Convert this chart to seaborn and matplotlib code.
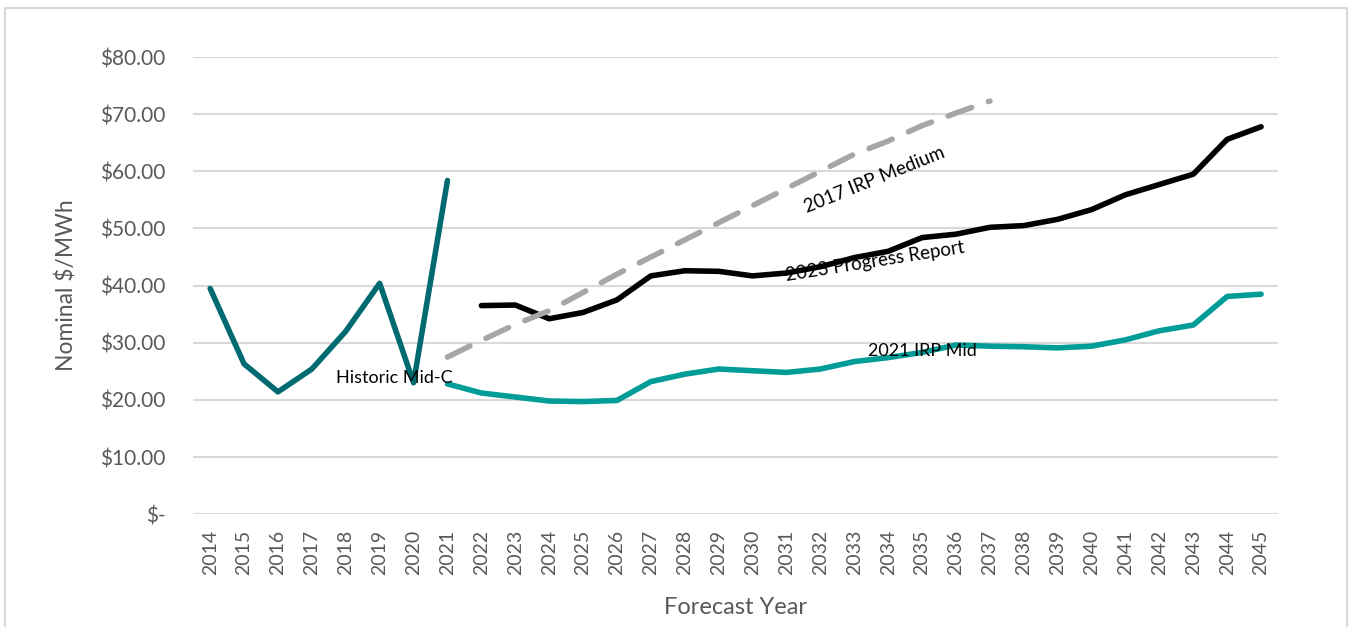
import pandas as pd
import numpy as np
import matplotlib.pyplot as plt
import seaborn as sns
from matplotlib.patches import Rectangle

years = list(range(2014, 2046))

hist_years = list(range(2014, 2022))
hist_vals = [39.5, 26.3, 21.4, 25.4, 32.0, 40.4, 23.0, 58.4]

irp21_years = list(range(2021, 2046))
irp21_vals = [22.8, 21.2, 20.5, 19.8, 19.7, 19.9, 23.2, 24.5, 25.4, 25.1, 24.8, 25.4, 26.7,
              27.4, 28.3, 29.6, 29.4, 29.3, 29.1, 29.4, 30.5, 32.1, 33.1, 38.1, 38.5]

pr23_years = list(range(2022, 2046))
pr23_vals = [36.5, 36.6, 34.2, 35.3, 37.5, 41.7, 42.6, 42.5, 41.7, 42.2, 43.3, 44.9,
             46.0, 48.4, 49.0, 50.2, 50.5, 51.6, 53.3, 55.9, 57.7, 59.5, 65.6, 67.8]

irp17_years = list(range(2021, 2038))
irp17_vals = [27.5, 30.4, 33.2, 35.6, 38.8, 42.0, 45.0, 48.0, 51.0, 54.0, 57.0,
              60.0, 63.0, 65.3, 68.0, 70.2, 72.3]

sns.set_style("white")
plt.rcParams['font.family'] = ['Lato', 'DejaVu Sans']

fig = plt.figure(figsize=(13.51, 6.27), dpi=100)
ax = fig.add_axes([0.143, 0.180, 0.803, 0.729])

gray_txt = '#595959'

sns.lineplot(x=hist_years, y=hist_vals, ax=ax, color='#006A71', lw=4, solid_capstyle='round')
sns.lineplot(x=irp21_years, y=irp21_vals, ax=ax, color='#009C98', lw=4, solid_capstyle='round')
sns.lineplot(x=pr23_years, y=pr23_vals, ax=ax, color='black', lw=4, solid_capstyle='round')
sns.lineplot(x=irp17_years, y=irp17_vals, ax=ax, color='#A6A6A6', lw=4,
             linestyle=(0, (4.5, 3.2)), dash_capstyle='round')

ax.set_xlim(2013.5, 2045.5)
ax.set_ylim(0, 80)
ax.set_xticks(years)
ax.set_xticklabels([str(y) for y in years], rotation=90, fontsize=14, color=gray_txt)
yt = list(range(0, 90, 10))
ax.set_yticks(yt)
ax.set_yticklabels(['$-'] + ['$%d.00' % v for v in yt[1:]], fontsize=15, color=gray_txt)
ax.yaxis.grid(True, color='#D9D9D9', lw=1.5)
ax.xaxis.grid(False)
for s in ax.spines.values():
    s.set_visible(False)
ax.tick_params(axis='y', length=0, pad=20)
ax.tick_params(axis='x', length=0, pad=11)
ax.set_ylabel('Nominal $/MWh', fontsize=16.5, color=gray_txt, labelpad=16)
ax.set_xlabel('Forecast Year', fontsize=17, color=gray_txt, labelpad=16)

ax.text(2017.7, 23.9, 'Historic Mid-C', fontsize=13, color='black', va='center')
ax.text(2033.4, 28.5, '2021 IRP Mid', fontsize=13, color='black', va='center')
ax.text(2033.6, 44.3, '2023 Progress Report', fontsize=13.5, color='black',
        ha='center', va='center', rotation=9)
ax.text(2033.6, 58.5, '2017 IRP Medium', fontsize=13.5, color='black',
        ha='center', va='center', rotation=22)

fig.patches.append(Rectangle((0.004, -0.01), 0.993, 0.997, transform=fig.transFigure,
                             fill=False, edgecolor='#D9D9D9', lw=1.5))

fig.savefig('out.png', dpi=100)
